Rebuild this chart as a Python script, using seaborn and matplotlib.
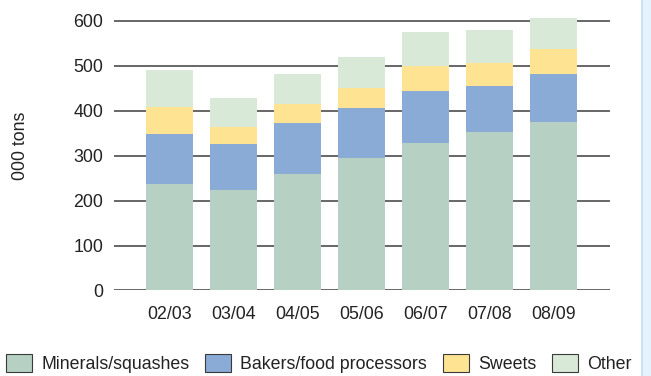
import matplotlib
matplotlib.use("Agg")
import matplotlib.pyplot as plt
from matplotlib.patches import Patch, Rectangle
import numpy as np
import pandas as pd
import seaborn as sns

seasons = ["02/03", "03/04", "04/05", "05/06", "06/07", "07/08", "08/09"]
minerals = [237, 224, 259, 295, 328, 353, 375]
bakers = [111, 102, 114, 111, 116, 102, 107]
sweets = [60, 38, 43, 45, 56, 51, 55]
other = [82, 64, 66, 69, 75, 74, 69]

series_names = ["Minerals/squashes", "Bakers/food processors", "Sweets", "Other"]
series_colors = ["#b6d0c3", "#8aabd6", "#fee393", "#d8e9d7"]
yticks = [0, 100, 200, 300, 400, 500, 600]

sns.set_theme(style="white")
plt.rcParams["font.family"] = ["Liberation Sans", "DejaVu Sans"]
FS = 12.8

df = pd.DataFrame({"season": seasons, "Minerals/squashes": minerals,
                   "Bakers/food processors": bakers, "Sweets": sweets, "Other": other})
cum = df[series_names].cumsum(axis=1)
cum["season"] = df["season"]

fig = plt.figure(figsize=(6.51, 3.76), dpi=100)
ax = fig.add_axes([0.175, 0.2274, 0.762, 0.7412])

# horizontal rules behind the bars
for y in yticks:
    ax.axhline(y, color="#5a5a5a", lw=1.3, zorder=0)

# stacked bars: draw cumulative totals from the top segment down
for name, color in reversed(list(zip(series_names, series_colors))):
    sns.barplot(data=cum, x="season", y=name, color=color, width=0.734,
                saturation=1, ax=ax, zorder=2, linewidth=0)

ax.set_xlim(-0.867, 6.88)
ax.set_ylim(0, 620)
ax.set_yticks(yticks)
ax.set_yticklabels([str(v) for v in yticks])
for s in ax.spines.values():
    s.set_visible(False)
ax.tick_params(axis="y", length=0, pad=7.7, labelsize=FS, labelcolor="#222222")
ax.tick_params(axis="x", length=0, pad=11, labelsize=FS, labelcolor="#222222")
ax.set_xlabel("")
ax.set_ylabel("000 tons", fontsize=FS, color="#222222")
ax.yaxis.set_label_coords(-0.171, 0.52)

handles = [Patch(facecolor=c, edgecolor="#3a3a3a", linewidth=0.8, label=n)
           for n, c in zip(series_names, series_colors)]
fig.legend(handles=handles, loc="center", bbox_to_anchor=(0.49, 0.032),
           ncol=4, frameon=False, fontsize=FS, handlelength=1.46,
           handleheight=1.18, handletextpad=0.5, columnspacing=0.91,
           borderpad=0, labelcolor="#222222")

# pale side strip at the right edge
fig.patches.append(Rectangle((641 / 651, 0), 10 / 651, 1, transform=fig.transFigure,
                             facecolor="#e4f2fc", edgecolor="none", zorder=0))
fig.patches.append(Rectangle((641 / 651, 0), 2 / 651, 1, transform=fig.transFigure,
                             facecolor="#cfe0f3", edgecolor="none", zorder=0))

fig.savefig("out.png", dpi=100)
